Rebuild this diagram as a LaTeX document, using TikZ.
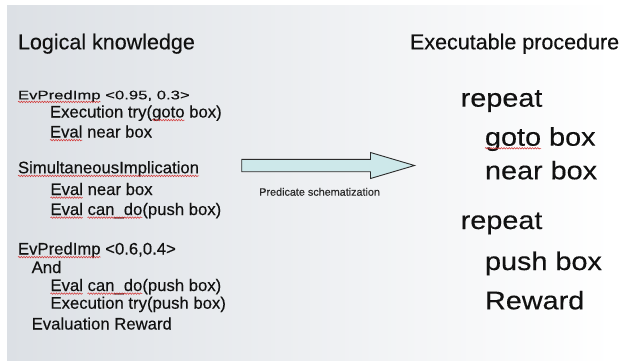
\documentclass[tikz,border=0pt]{standalone}
\usepackage{fontspec}
\setmainfont[FakeBold=0.3]{Liberation Sans}
\usetikzlibrary{decorations.pathmorphing}

\definecolor{slideL}{HTML}{DCE0E5}
\definecolor{arrowfill}{HTML}{CDE8EA}
\definecolor{inkgray}{HTML}{2B2B2B}
\definecolor{spellred}{HTML}{D23A3A}
\definecolor{ink}{HTML}{111111}

\tikzset{
  txt/.style={anchor=base west, inner sep=0pt, outer sep=0pt, text=ink},
  body/.style={txt, font=\fontsize{16.7}{20}\selectfont},
  head/.style={txt, font=\fontsize{21.5}{26}\selectfont},
  big/.style={txt, font=\fontsize{25.5}{30}\selectfont},
  small/.style={txt, text=inkgray, font=\fontsize{10.8}{13}\selectfont},
  spell/.style={draw=spellred, line width=0.55pt, decorate,
    decoration={snake, amplitude=0.75pt, segment length=2.6pt}},
  blockarrow/.style={draw=inkgray, line width=0.9pt, fill=arrowfill, line join=miter},
}
% red spell-check wave under a word node
\newcommand\wavy[1]{\draw[spell] ([yshift=-2.6pt]#1.base west) -- ([yshift=-2.6pt]#1.base east);}
\newcommand\widetxt[1]{\scalebox{1.13}[1]{#1}}
\newcommand\squashtxt[1]{\scalebox{1}[0.74]{#1}}

\begin{document}
\begin{tikzpicture}[x=1pt, y=-1pt]
  \useasboundingbox (0,0) rectangle (628,360);
  \fill[white] (0,0) rectangle (628,360);
  \shade[left color=slideL, right color=white] (7,5) rectangle (612,360);
  \fill[white] (612,5) rectangle (628,360);

  % headings
  \node[head] (lk) at (18,49.3) {Logical knowledge};
  \node[head] (ep) at (410,49.3) {Executable procedure};

  % first implication
  \node[body] (a1) at (18,99.3) {\squashtxt{EvPredImp}};
  \node[body] (a1b) at (a1.base east) {\squashtxt{\ <0.95, 0.3>}};
  \node[body] (a2) at (50,117.5) {Execution try(};
  \node[body] (a2g) at (a2.base east) {goto};
  \node[body] (a2b) at (a2g.base east) {\ box)};
  \node[body] (a3) at (50,137.5) {Eval};
  \node[body] (a3b) at (a3.base east) {\ near box};

  % simultaneous implication
  \node[body] (b1) at (18,173.3) {SimultaneousImplication};
  \node[body] (b2) at (50.5,195) {Eval};
  \node[body] (b2b) at (b2.base east) {\ near box};
  \node[body] (b3) at (50.5,215) {Eval};
  \node[body] (b3c) at ([xshift=4.6pt]b3.base east) {can\_do};
  \node[body] (b3b) at (b3c.base east) {(push box)};

  % second implication
  \node[body] (c1) at (18,254.5) {EvPredImp};
  \node[body] (c1b) at (c1.base east) {\ <0.6,0.4>};
  \node[body] (c2) at (31.7,273) {And};
  \node[body] (c3) at (50.5,291) {Eval};
  \node[body] (c3c) at ([xshift=4.6pt]c3.base east) {can\_do};
  \node[body] (c3b) at (c3c.base east) {(push box)};
  \node[body] (c4) at (50.5,308.7) {Execution try(push box)};
  \node[body] (c5) at (31.7,329.5) {Evaluation Reward};

  \wavy{a1} \wavy{a2g} \wavy{a3}
  \wavy{b1} \wavy{b2} \wavy{b3} \wavy{b3c}
  \wavy{c1} \wavy{c3} \wavy{c3c}

  % executable procedure
  \node[big] (r1) at (460.7,106.7) {\widetxt{repeat}};
  \node[big] (r2) at (485,145.7) {\widetxt{goto}};
  \node[big] (r2b) at (r2.base east) {\widetxt{\ box}};
  \node[big] (r3) at (485,179.3) {\widetxt{near box}};
  \node[big] (r4) at (460.7,229) {\widetxt{repeat}};
  \node[big] (r5) at (485,270) {\widetxt{push box}};
  \node[big] (r6) at (485,309.3) {\widetxt{Reward}};
  \wavy{r2}

  % schematization arrow
  \coordinate (s0) at (241.7,165.5);
  \coordinate (h) at (370.5,165.5);
  \coordinate (tip) at (414.5,165.5);
  \draw[blockarrow] ([yshift=6.2pt]s0) -- ([yshift=6.2pt]h) -- ([yshift=13pt]h) -- (tip)
    -- ([yshift=-13pt]h) -- ([yshift=-6.2pt]h) -- ([yshift=-6.2pt]s0) -- cycle;
  \node[small] (ps) at (259.3,195.7) {Predicate schematization};
\end{tikzpicture}
\end{document}
